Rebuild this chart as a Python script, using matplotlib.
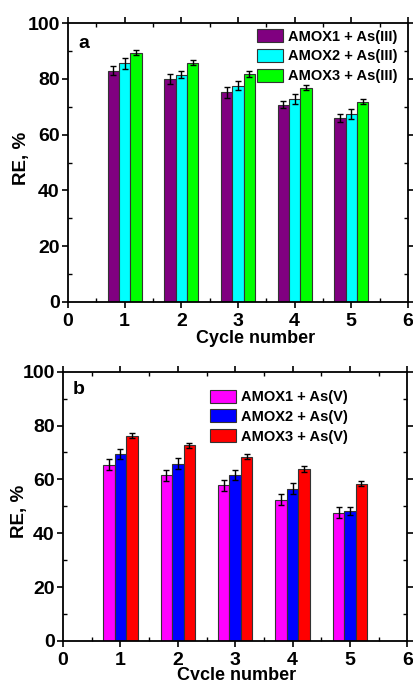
import matplotlib
matplotlib.use("Agg")
import matplotlib.pyplot as plt
import numpy as np
from matplotlib.ticker import MultipleLocator

plt.rcParams['font.family'] = ['Liberation Sans', 'DejaVu Sans']
plt.rcParams['font.weight'] = 'bold'

cycles = [1, 2, 3, 4, 5]

# Panel a: As(III)
labels_a = ["AMOX1 + As(III)", "AMOX2 + As(III)", "AMOX3 + As(III)"]
a1 = [83.0, 80.0, 75.2, 70.7, 65.9]
a2 = [85.6, 81.5, 77.6, 72.7, 67.3]
a3 = [89.4, 85.8, 81.7, 76.9, 71.8]
a1_err = [1.6, 1.8, 2.0, 1.3, 1.5]
a2_err = [2.0, 1.3, 1.7, 1.8, 1.8]
a3_err = [1.0, 1.0, 1.1, 0.9, 0.9]
colors_a = ["#800080", "#00FFFF", "#00FF00"]

# Panel b: As(V)
labels_b = ["AMOX1 + As(V)", "AMOX2 + As(V)", "AMOX3 + As(V)"]
b1 = [65.4, 61.5, 57.8, 52.4, 47.6]
b2 = [69.4, 65.9, 61.6, 56.5, 48.1]
b3 = [76.2, 72.6, 68.5, 63.8, 58.4]
b1_err = [2.0, 2.0, 2.0, 2.0, 2.0]
b2_err = [2.0, 2.0, 1.8, 2.0, 1.5]
b3_err = [1.0, 1.0, 1.0, 1.0, 1.0]
colors_b = ["#FF00FF", "#0000FF", "#FF0000"]

fig = plt.figure(figsize=(4.13, 6.8), dpi=100)
ax_a = fig.add_axes([0.1646, 0.556, 0.823, 0.41])
ax_b = fig.add_axes([0.1525, 0.0574, 0.834, 0.396])

w = 0.2
def draw(ax, series, errs, labels, colors, tag, tagpos, legpos, xlabpos, ylabpos):
    x = np.array(cycles, dtype=float)
    handles = []
    for i, (vals, err, lab, c) in enumerate(zip(series, errs, labels, colors)):
        h = ax.bar(x + (i - 1) * w, vals, width=w, color=c, edgecolor="#333333",
                   linewidth=0.8, yerr=err, capsize=2.5,
                   error_kw=dict(ecolor="black", elinewidth=1.0, capthick=1.0),
                   label=lab, zorder=2)
        handles.append(h)
    ax.set_xlim(0, 6)
    ax.set_ylim(0, 100)
    ax.xaxis.set_major_locator(MultipleLocator(1))
    ax.xaxis.set_minor_locator(MultipleLocator(0.5))
    ax.yaxis.set_major_locator(MultipleLocator(20))
    ax.yaxis.set_minor_locator(MultipleLocator(10))
    ax.tick_params(which='major', direction='out', length=4, width=1.2,
                   labelsize=14, pad=2)
    ax.tick_params(axis='x', which='major', pad=4)
    ax.tick_params(which='minor', direction='in', length=3, width=1.0)
    ax.tick_params(which='both', top=True, right=True)
    for lab in ax.get_xticklabels() + ax.get_yticklabels():
        lab.set_fontweight('bold')
    for s in ax.spines.values():
        s.set_linewidth(1.3)
    ax.set_ylabel("RE, %", fontsize=13.5, fontweight='bold', va='center')
    ax.yaxis.set_label_coords(*ylabpos)
    ax.set_xlabel("Cycle number", fontsize=13, fontweight='bold', va='center')
    ax.xaxis.set_label_coords(*xlabpos)
    ax.text(tagpos[0], tagpos[1], tag, transform=ax.transAxes, fontsize=14,
            fontweight='bold', va='center', ha='left')
    leg = ax.legend(handles=handles, loc='upper left', bbox_to_anchor=legpos,
                    frameon=False, handlelength=1.8, handleheight=1.0,
                    handletextpad=0.3, labelspacing=0.35, borderaxespad=0,
                    borderpad=0, prop=dict(weight='bold', size=10.5))
    leg.set_zorder(5)

draw(ax_a, [a1, a2, a3], [a1_err, a2_err, a3_err], labels_a, colors_a, "a",
     (0.03, 0.928), (0.556, 0.978), (0.553, -0.13), (-0.138, 0.516))
draw(ax_b, [b1, b2, b3], [b1_err, b2_err, b3_err], labels_b, colors_b, "b",
     (0.029, 0.933), (0.427, 0.933), (0.503, -0.13), (-0.125, 0.483))

fig.savefig("out.png", dpi=100)
